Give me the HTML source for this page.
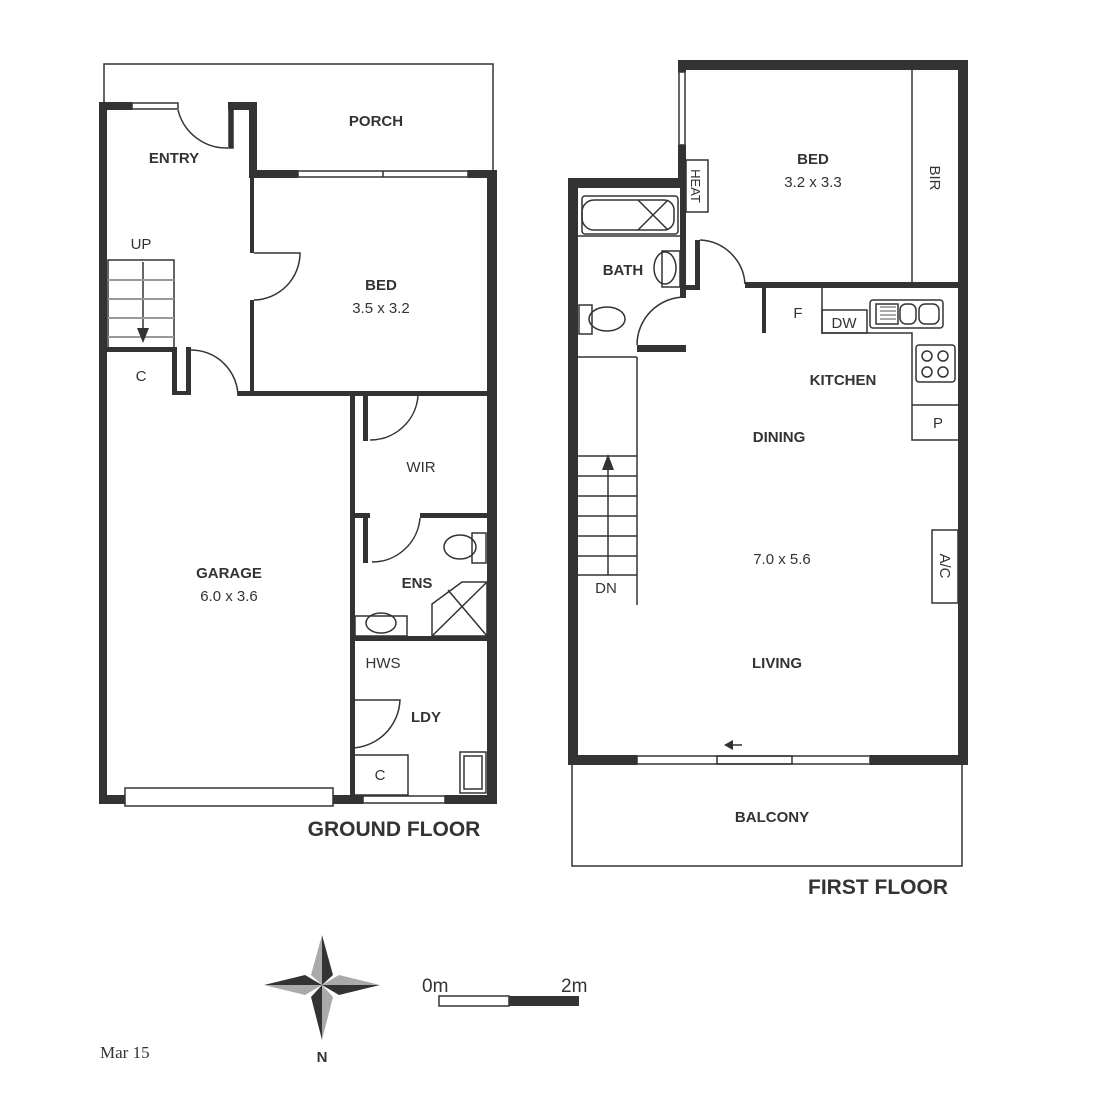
<!DOCTYPE html>
<html><head><meta charset="utf-8"><style>
html,body{margin:0;padding:0;background:#fff}
svg{display:block}
text{font-family:"Liberation Sans",Arial,sans-serif;fill:#333}
.b{font-weight:bold;font-size:15px}
.n{font-size:15px}
</style></head><body>
<svg width="1118" height="1113" viewBox="0 0 1118 1113" xmlns="http://www.w3.org/2000/svg">
<g fill="#333" stroke="none">
<rect x="99" y="102" width="8" height="702"/>
<rect x="99" y="102" width="33" height="8"/>
<rect x="228" y="102" width="29" height="8"/>
<rect x="249" y="102" width="8" height="76"/>
<rect x="249" y="170" width="49" height="8"/>
<rect x="468" y="170" width="29" height="8"/>
<rect x="487" y="170" width="10" height="634"/>
<rect x="99" y="795" width="26" height="9"/>
<rect x="333" y="795" width="30" height="9"/>
<rect x="445" y="795" width="52" height="9"/>
<rect x="678" y="60" width="290" height="10"/>
<rect x="958" y="60" width="10" height="705"/>
<rect x="678" y="60" width="8" height="12"/>
<rect x="678" y="145" width="8" height="43"/>
<rect x="568" y="178" width="118" height="10"/>
<rect x="568" y="178" width="10" height="587"/>
<rect x="568" y="755" width="69" height="10"/>
<rect x="870" y="755" width="98" height="10"/>
</g>
<g fill="none" stroke="#333" stroke-width="1.5">
<polyline points="104,102 104,64 493,64 493,170"/>
<rect x="132" y="103" width="46" height="6"/>
<rect x="298" y="171" width="170" height="6"/><line x1="383" y1="171" x2="383" y2="177"/>
<rect x="125" y="788" width="208" height="18"/>
<rect x="363" y="796" width="82" height="7"/>
<path d="M178,110 A50,50 0 0 0 228,148"/>
<rect x="229" y="108" width="4" height="40" fill="#333"/>
</g>
<g fill="#333">
<rect x="250" y="178" width="4" height="75"/>
<rect x="250" y="300" width="4" height="96"/>
<rect x="238" y="391" width="250" height="5"/>
<rect x="107" y="347" width="67" height="5"/>
<rect x="172" y="347" width="5" height="48"/>
<rect x="186" y="347" width="5" height="48"/>
<rect x="172" y="391" width="19" height="4"/>
<rect x="350" y="391" width="5" height="405"/>
<rect x="363" y="391" width="5" height="50"/>
<rect x="350" y="513" width="20" height="5"/>
<rect x="420" y="513" width="68" height="5"/>
<rect x="363" y="513" width="5" height="50"/>
<rect x="350" y="636" width="138" height="5"/>
<rect x="350" y="696" width="5" height="4"/>
</g>
<g fill="none" stroke="#333" stroke-width="1.5">
<path d="M254,253 L300,253 A47,47 0 0 1 254,300"/>
<path d="M191,350 A47,47 0 0 1 238,396"/>
<path d="M418,396 A48,48 0 0 1 370,440"/>
<path d="M420,518 A48,48 0 0 1 372,562"/>
<path d="M350,700 L400,700 A50,50 0 0 1 350,748"/>
<rect x="108" y="260" width="66" height="88"/>
<line x1="143" y1="262" x2="143" y2="335"/>
</g>
<g stroke="#999" stroke-width="2"><line x1="108" y1="280" x2="174" y2="280"/><line x1="108" y1="299" x2="174" y2="299"/><line x1="108" y1="318" x2="174" y2="318"/><line x1="108" y1="337" x2="174" y2="337"/></g>
<g fill="none" stroke="#333" stroke-width="1.5">
<ellipse cx="460" cy="547" rx="16" ry="12"/><rect x="472" y="533" width="14" height="30"/>
<rect x="355" y="616" width="52" height="20"/><ellipse cx="381" cy="623" rx="15" ry="10"/>
<polygon points="432,636 432,604 462,582 487,582 487,636"/>
<line x1="432" y1="636" x2="487" y2="582"/><line x1="448" y1="590" x2="487" y2="636"/>
<rect x="354" y="755" width="54" height="40"/>
<rect x="460" y="752" width="26" height="41"/><rect x="464" y="756" width="18" height="33"/>
</g>
<polygon points="137,328 149,328 143,343" fill="#333"/>
<g fill="#333">
<rect x="680" y="188" width="6" height="110"/>
<rect x="686" y="285" width="14" height="5"/>
<rect x="695" y="240" width="5" height="50"/>
<rect x="745" y="282" width="213" height="6"/>
<rect x="637" y="345" width="49" height="7"/>
<rect x="762" y="288" width="4" height="45"/>
</g>
<g fill="none" stroke="#333" stroke-width="1.5">
<rect x="679" y="72" width="6" height="73"/>
<rect x="686" y="160" width="22" height="52"/>
<line x1="912" y1="70" x2="912" y2="282"/>
<path d="M700,240 A47,47 0 0 1 745,284"/>
<path d="M685,297 A48,48 0 0 0 637,345"/>
<rect x="582" y="196" width="96" height="38" rx="3"/>
<path d="M594,200 h70 a10,10 0 0 1 10,10 v10 a10,10 0 0 1 -10,10 h-70 a12,12 0 0 1 -12,-12 v-6 a12,12 0 0 1 12,-12z"/>
<line x1="638" y1="200" x2="668" y2="230"/><line x1="668" y1="200" x2="638" y2="230"/>
<line x1="578" y1="236" x2="680" y2="236"/>
<ellipse cx="665" cy="268" rx="11" ry="16"/><rect x="662" y="251" width="18" height="36"/>
<ellipse cx="607" cy="319" rx="18" ry="12"/><rect x="579" y="305" width="13" height="29"/>
<line x1="578" y1="357" x2="637" y2="357"/>
<line x1="637" y1="357" x2="637" y2="605"/>
<line x1="578" y1="456" x2="637" y2="456"/><line x1="578" y1="476" x2="637" y2="476"/><line x1="578" y1="496" x2="637" y2="496"/><line x1="578" y1="516" x2="637" y2="516"/><line x1="578" y1="536" x2="637" y2="536"/><line x1="578" y1="556" x2="637" y2="556"/><line x1="578" y1="575" x2="637" y2="575"/>
<line x1="608" y1="465" x2="608" y2="575"/>
<polyline points="822,288 822,333 912,333 912,440 958,440"/>
<rect x="822" y="310" width="45" height="23"/>
<rect x="870" y="300" width="73" height="28" rx="3"/>
<rect x="876" y="304" width="22" height="20"/>
<rect x="900" y="304" width="16" height="20" rx="6"/><rect x="919" y="304" width="20" height="20" rx="6"/>
<rect x="916" y="345" width="39" height="37" rx="3"/>
<circle cx="927" cy="356" r="5"/><circle cx="943" cy="356" r="5"/><circle cx="927" cy="372" r="5"/><circle cx="943" cy="372" r="5"/>
<line x1="912" y1="405" x2="958" y2="405"/>
<rect x="932" y="530" width="26" height="73"/>
<rect x="637" y="756" width="233" height="8"/>
<rect x="717" y="756" width="75" height="8"/>
<line x1="728" y1="745" x2="742" y2="745"/>
<polyline points="572,765 572,866 962,866 962,765"/>
</g>
<polygon points="602,470 614,470 608,454" fill="#333"/>
<polygon points="724,745 733,740 733,750" fill="#333"/>
<g stroke="#555" stroke-width="1" fill="none"><line x1="880" y1="307" x2="896" y2="307"/><line x1="880" y1="311" x2="896" y2="311"/><line x1="880" y1="315" x2="896" y2="315"/><line x1="880" y1="319" x2="896" y2="319"/></g>
<text class="b" x="376" y="126" text-anchor="middle">PORCH</text>
<text class="b" x="174" y="163" text-anchor="middle">ENTRY</text>
<text class="n" x="141" y="249" text-anchor="middle">UP</text>
<text class="b" x="381" y="290" text-anchor="middle">BED</text>
<text class="n" x="381" y="313" text-anchor="middle">3.5 x 3.2</text>
<text class="n" x="141" y="381" text-anchor="middle">C</text>
<text class="n" x="421" y="472" text-anchor="middle">WIR</text>
<text class="b" x="229" y="578" text-anchor="middle">GARAGE</text>
<text class="n" x="229" y="601" text-anchor="middle">6.0 x 3.6</text>
<text class="b" x="417" y="588" text-anchor="middle">ENS</text>
<text class="n" x="383" y="668" text-anchor="middle">HWS</text>
<text class="b" x="426" y="722" text-anchor="middle">LDY</text>
<text class="n" x="380" y="780" text-anchor="middle">C</text>
<text x="394" y="836" text-anchor="middle" style="font-weight:bold;font-size:21px">GROUND FLOOR</text>
<text class="b" x="813" y="164" text-anchor="middle">BED</text>
<text class="n" x="813" y="187" text-anchor="middle">3.2 x 3.3</text>
<text class="n" transform="translate(930,178) rotate(90)" text-anchor="middle">BIR</text>
<text transform="translate(691,186) rotate(90)" text-anchor="middle" style="font-size:13px">HEAT</text>
<text class="b" x="623" y="275" text-anchor="middle">BATH</text>
<text class="n" x="798" y="318" text-anchor="middle">F</text>
<text class="n" x="844" y="328" text-anchor="middle">DW</text>
<text class="b" x="843" y="385" text-anchor="middle">KITCHEN</text>
<text class="n" x="938" y="428" text-anchor="middle">P</text>
<text class="b" x="779" y="442" text-anchor="middle">DINING</text>
<text class="n" x="782" y="564" text-anchor="middle">7.0 x 5.6</text>
<text class="n" transform="translate(940,566) rotate(90)" text-anchor="middle">A/C</text>
<text class="n" x="606" y="593" text-anchor="middle">DN</text>
<text class="b" x="777" y="668" text-anchor="middle">LIVING</text>
<text class="b" x="772" y="822" text-anchor="middle">BALCONY</text>
<text x="878" y="894" text-anchor="middle" style="font-weight:bold;font-size:21px">FIRST FLOOR</text>
<g stroke="none">
<polygon points="322,935 333,975 322,985" fill="#333"/>
<polygon points="322,935 311,975 322,985" fill="#aaa"/>
<polygon points="322,1040 311,997 322,985" fill="#333"/>
<polygon points="322,1040 333,997 322,985" fill="#aaa"/>
<polygon points="264,985 305,975 322,985" fill="#333"/>
<polygon points="264,985 305,995 322,985" fill="#aaa"/>
<polygon points="380,985 339,995 322,985" fill="#333"/>
<polygon points="380,985 339,975 322,985" fill="#aaa"/>
</g>
<text x="322" y="1062" text-anchor="middle" style="font-weight:bold;font-size:15px">N</text>
<text x="422" y="992" style="font-size:19px">0m</text>
<text x="561" y="992" style="font-size:19px">2m</text>
<rect x="439" y="996" width="70" height="10" fill="#fff" stroke="#333" stroke-width="1.5"/>
<rect x="509" y="996" width="70" height="10" fill="#333"/>
<text x="100" y="1058" style="font-family:'Liberation Serif',serif;font-size:17px">Mar 15</text>
</svg>
</body></html>
